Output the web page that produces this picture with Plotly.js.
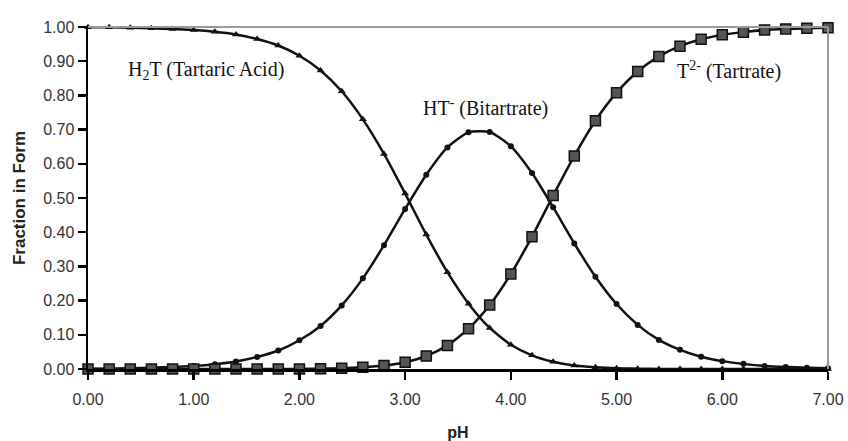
<!DOCTYPE html>
<html>
<head>
<meta charset="utf-8">
<script src="https://cdn.plot.ly/plotly-3.0.1.min.js"></script>
<style>html,body{margin:0;padding:0;background:#fff;}#chart{width:848px;height:441px;}</style>
</head>
<body>
<div id="chart"></div>
<script>
const pH = [0.0,0.2,0.4,0.6,0.8,1.0,1.2,1.4,1.6,1.8,2.0,2.2,2.4,2.6,2.8,3.0,3.2,3.4,3.6,3.8,4.0,4.2,4.4,4.6,4.8,5.0,5.2,5.4,5.6,5.8,6.0,6.2,6.4,6.6,6.8,7.0];
const h2t = [0.999,0.999,0.998,0.996,0.994,0.991,0.986,0.978,0.965,0.946,0.916,0.873,0.812,0.730,0.629,0.513,0.393,0.283,0.191,0.120,0.071,0.040,0.021,0.010,0.005,0.002,0.001,0.000,0.000,0.000,0.000,0.000,0.000,0.000,0.000,0.000];
const ht = [0.001,0.001,0.002,0.004,0.006,0.009,0.014,0.022,0.035,0.054,0.084,0.126,0.186,0.265,0.362,0.468,0.568,0.648,0.692,0.693,0.651,0.573,0.473,0.367,0.270,0.190,0.129,0.085,0.056,0.036,0.023,0.015,0.009,0.006,0.004,0.002];
const t2 = [0.000,0.000,0.000,0.000,0.000,0.000,0.000,0.000,0.000,0.000,0.000,0.001,0.002,0.005,0.010,0.020,0.038,0.069,0.118,0.187,0.278,0.387,0.507,0.623,0.726,0.808,0.870,0.914,0.944,0.964,0.977,0.985,0.991,0.994,0.996,0.998];
const xTicks = [0,1,2,3,4,5,6,7];
const yTicks = [0,0.1,0.2,0.3,0.4,0.5,0.6,0.7,0.8,0.9,1.0];
const labels = [
  {text:'H<sub>2</sub>T (Tartaric Acid)', x:1.12, y:0.874},
  {text:'HT<sup>-</sup> (Bitartrate)', x:3.76, y:0.766},
  {text:'T<sup>2-</sup> (Tartrate)', x:6.06, y:0.874}
];

const lineStyle = {color:'#111', width:2.5, shape:'spline', smoothing:0.6};
const traces = [
  {x:pH, y:h2t, mode:'lines+markers', line:lineStyle, marker:{symbol:'triangle-up', size:7, color:'#111'}, cliponaxis:false},
  {x:pH, y:ht, mode:'lines+markers', line:lineStyle, marker:{symbol:'circle', size:6, color:'#111'}, cliponaxis:false},
  {x:pH, y:t2, mode:'lines+markers', line:lineStyle, marker:{symbol:'square', size:10, color:'#555', line:{color:'#111', width:1.5}}, cliponaxis:false}
];

const layout = {
  width:848, height:441,
  margin:{l:88, r:20, t:27, b:72},
  paper_bgcolor:'#fff', plot_bgcolor:'#fff',
  showlegend:false,
  font:{family:'Liberation Sans, Arial, sans-serif', size:16, color:'#333'},
  xaxis:{range:[0,7], tickvals:xTicks, tickformat:'.2f', showgrid:false, zeroline:false,
    showline:true, linecolor:'#000', linewidth:2.5, ticks:'outside', ticklen:8, tickwidth:2.5, tickcolor:'#000',
    tickfont:{size:16, color:'#333'}, ticklabelstandoff:6,
    title:{text:'<b>pH</b>', font:{size:16, color:'#222'}, standoff:20}},
  yaxis:{range:[0,1], tickvals:yTicks, tickformat:'.2f', showgrid:false, zeroline:false,
    showline:true, linecolor:'#000', linewidth:2.5, ticks:'outside', ticklen:8, tickwidth:2.5, tickcolor:'#000',
    tickfont:{size:16, color:'#333'},
    title:{text:'<b>Fraction in Form</b>', font:{size:17, color:'#222'}, standoff:13}},
  shapes:[
    {type:'line', xref:'paper', yref:'paper', x0:0, x1:1, y0:1, y1:1, line:{color:'#999', width:2}},
    {type:'line', xref:'paper', yref:'paper', x0:1, x1:1, y0:0, y1:1, line:{color:'#999', width:2}}
  ],
  annotations: labels.map(l => ({text:l.text, x:l.x, y:l.y, xref:'x', yref:'y', showarrow:false,
    font:{family:'Liberation Serif, Times New Roman, serif', size:20, color:'#111'}}))
};

Plotly.newPlot('chart', traces, layout, {displayModeBar:false, staticPlot:true});
</script>
</body>
</html>
